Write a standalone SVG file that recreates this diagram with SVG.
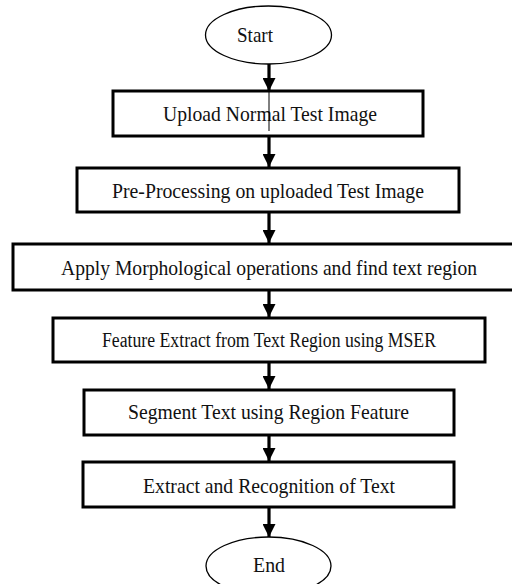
<svg xmlns="http://www.w3.org/2000/svg" width="512" height="584" viewBox="0 0 512 584">
  <style>
    .box { fill: #ffffff; stroke: #000000; stroke-width: 3; }
    .term { fill: #ffffff; stroke: #000000; stroke-width: 1.3; }
    .lbl { font-family: "Liberation Serif", "Times New Roman", serif; font-size: 22px; fill: #111111; text-anchor: middle; }
    .small { font-size: 20px; }
    .flow { stroke: #000000; stroke-width: 3.2; fill: none; marker-end: url(#head); }
    .caret { stroke: #000000; stroke-width: 1; }
  </style>
  <defs>
    <marker id="head" markerUnits="userSpaceOnUse" markerWidth="13" markerHeight="13" refX="13" refY="6.5" orient="auto">
      <path d="M0,0 L13,6.5 L0,13 z" fill="#000000"/>
    </marker>
  </defs>
  <rect width="512" height="584" fill="#ffffff"/>

  <!-- flow connectors -->
  <g id="connectors">
    <line class="flow" x1="269" y1="64" x2="269" y2="91"/>
    <line class="flow" x1="269" y1="136" x2="269" y2="167"/>
    <line class="flow" x1="269" y1="212" x2="269" y2="243"/>
    <line class="flow" x1="269" y1="290" x2="269" y2="317"/>
    <line class="flow" x1="269" y1="362" x2="269" y2="389"/>
    <line class="flow" x1="269" y1="435" x2="269" y2="461"/>
    <line class="flow" x1="269" y1="507" x2="269" y2="537"/>
  </g>

  <g id="start">
    <ellipse class="term" cx="268.5" cy="35" rx="63" ry="29"/>
    <text class="lbl" x="255" y="42" textLength="36" lengthAdjust="spacingAndGlyphs">Start</text>
  </g>

  <g id="upload">
    <rect class="box" x="113" y="91" width="310" height="45"/>
    <text class="lbl" x="270" y="121" textLength="214" lengthAdjust="spacingAndGlyphs">Upload Normal Test Image</text>
    <line class="caret" x1="269" y1="92" x2="269" y2="131"/>
  </g>

  <g id="preprocess">
    <rect class="box" x="77" y="168" width="382" height="44"/>
    <text class="lbl" x="268" y="198" textLength="312" lengthAdjust="spacingAndGlyphs">Pre-Processing on uploaded Test Image</text>
  </g>

  <g id="morphology">
    <!-- wide box runs past the right edge, so only three sides are drawn -->
    <path class="box" d="M512,244 H13 V290 H512"/>
    <text class="lbl" x="269" y="275" textLength="416" lengthAdjust="spacingAndGlyphs">Apply Morphological operations and find text region</text>
  </g>

  <g id="mser">
    <rect class="box" x="53" y="318" width="432" height="44"/>
    <text class="lbl small" x="269" y="347" textLength="334" lengthAdjust="spacingAndGlyphs">Feature Extract from Text Region using MSER</text>
  </g>

  <g id="segment">
    <rect class="box" x="84" y="390" width="370" height="45"/>
    <text class="lbl" x="268.5" y="419" textLength="281" lengthAdjust="spacingAndGlyphs">Segment Text using Region Feature</text>
  </g>

  <g id="recognition">
    <rect class="box" x="83" y="462" width="371" height="45"/>
    <text class="lbl" x="269" y="493" textLength="252" lengthAdjust="spacingAndGlyphs">Extract and Recognition of Text</text>
  </g>

  <g id="end">
    <ellipse class="term" cx="268.5" cy="566" rx="62.5" ry="29"/>
    <text class="lbl" x="269" y="572" textLength="32" lengthAdjust="spacingAndGlyphs">End</text>
  </g>
</svg>
